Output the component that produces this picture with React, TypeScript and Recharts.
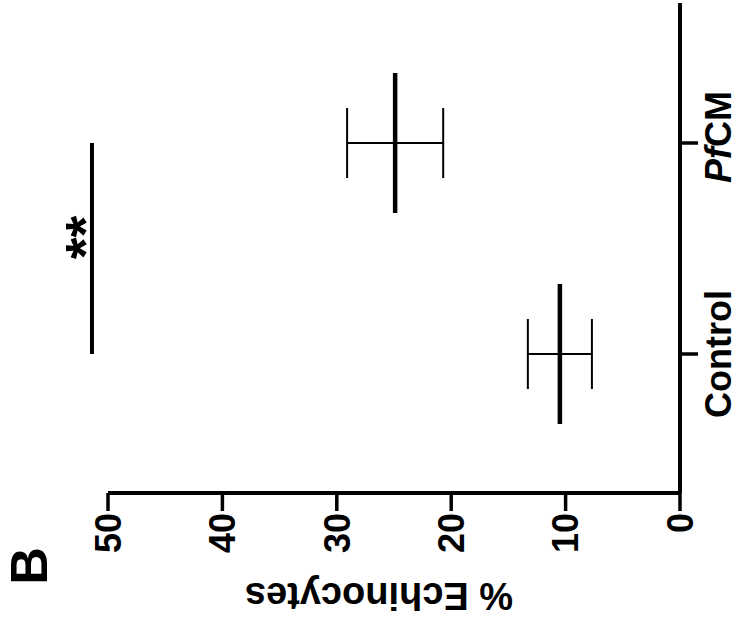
import React from 'react';
import { ComposedChart, Scatter, ErrorBar, XAxis, YAxis, ReferenceLine } from 'recharts';

const categories = ['Control', 'PfCM'];
const means = [10.5, 24.9];
const sds = [2.8, 4.2];
const valueTicks = [0, 10, 20, 30, 40, 50];
const sigLevel = 51.4;
const sigText = '**';
const yLabel = '% Echinocytes';
const panelLetter = 'B';

const data = categories.map((c, i) => ({ group: c, mean: means[i], sd: sds[i] }));

const FONT = '"Liberation Sans", Arial, Helvetica, sans-serif';

const MeanLine = (props: any) => {
  const { cx, cy } = props;
  if (cx == null || cy == null) return null;
  return <line x1={cx - 70} x2={cx + 70} y1={cy} y2={cy} stroke="#000" strokeWidth={4.5} />;
};

const CategoryTick = (props: any) => {
  const { x, y, payload } = props;
  const v = String(payload.value);
  return (
    <text x={x} y={y} dx={v === 'PfCM' ? 6 : 0} dy="0.71em" textAnchor="middle" fontFamily={FONT} fontWeight="bold" fontSize={36} fill="#000">
      {v === 'PfCM' ? (
        <>
          <tspan fontStyle="italic">Pf</tspan>
          <tspan>CM</tspan>
        </>
      ) : (
        v
      )}
    </text>
  );
};

const YLabel = (props: any) => {
  const vb = props.viewBox || {};
  const cx = (vb.x ?? 0) + 38;
  const cy = (vb.y ?? 0) + (vb.height ?? 0) / 2 - 15;
  return (
    <text
      x={cx}
      y={cy}
      transform={`rotate(-90 ${cx} ${cy})`}
      textAnchor="middle"
      fontFamily={FONT}
      fontWeight="bold"
      fontSize={38}
      fill="#000"
    >
      {yLabel}
    </text>
  );
};

const SigLabel = (props: any) => {
  const vb = props.viewBox || {};
  const cx = (vb.x ?? 0) + (vb.width ?? 0) / 2 + 11;
  const cy = (vb.y ?? 0) + 12;
  return (
    <text x={cx} y={cy} textAnchor="middle" fontFamily={FONT} fontWeight="bold" fontSize={56} fill="#000">
      {sigText}
    </text>
  );
};

export default function App() {
  return (
    <div style={{ position: 'absolute', left: 0, top: 0, width: 739, height: 621, overflow: 'hidden', background: '#fff' }}>
      <div
        style={{
          position: 'absolute',
          left: 0,
          top: 0,
          width: 621,
          height: 739,
          transformOrigin: '0 0',
          transform: 'translateY(621px) rotate(-90deg)',
        }}
      >
        <ComposedChart width={621} height={739} data={data} margin={{ top: 108, right: 3, bottom: 0, left: 0 }}>
          <XAxis
            dataKey="group"
            type="category"
            scale="point"
            padding={{ left: 139, right: 140 }}
            height={59}
            tickSize={18}
            tickMargin={7}
            interval={0}
            axisLine={{ stroke: '#000', strokeWidth: 4 }}
            tickLine={{ stroke: '#000', strokeWidth: 3.5 }}
            tick={<CategoryTick />}
          />
          <YAxis
            type="number"
            domain={[0, 50]}
            ticks={valueTicks}
            width={128}
            tickSize={18}
            tickMargin={2}
            interval={0}
            axisLine={{ stroke: '#000', strokeWidth: 4 }}
            tickLine={{ stroke: '#000', strokeWidth: 3.5 }}
            tick={{ fontSize: 36, fontWeight: 'bold', fill: '#000', fontFamily: FONT }}
            label={<YLabel />}
          />
          <ReferenceLine
            segment={[
              { x: categories[0], y: sigLevel },
              { x: categories[1], y: sigLevel },
            ]}
            ifOverflow="visible"
            stroke="#000"
            strokeWidth={4}
            label={<SigLabel />}
          />
          <Scatter dataKey="mean" shape={<MeanLine />} isAnimationActive={false}>
            <ErrorBar dataKey="sd" direction="y" width={35} stroke="#000" strokeWidth={2} />
          </Scatter>
        </ComposedChart>
        <svg
          width={621}
          height={739}
          style={{ position: 'absolute', left: 0, top: 0, pointerEvents: 'none' }}
        >
          <text x={55} y={47} textAnchor="middle" fontFamily={FONT} fontWeight="bold" fontSize={52} fill="#000">
            {panelLetter}
          </text>
        </svg>
      </div>
    </div>
  );
}
